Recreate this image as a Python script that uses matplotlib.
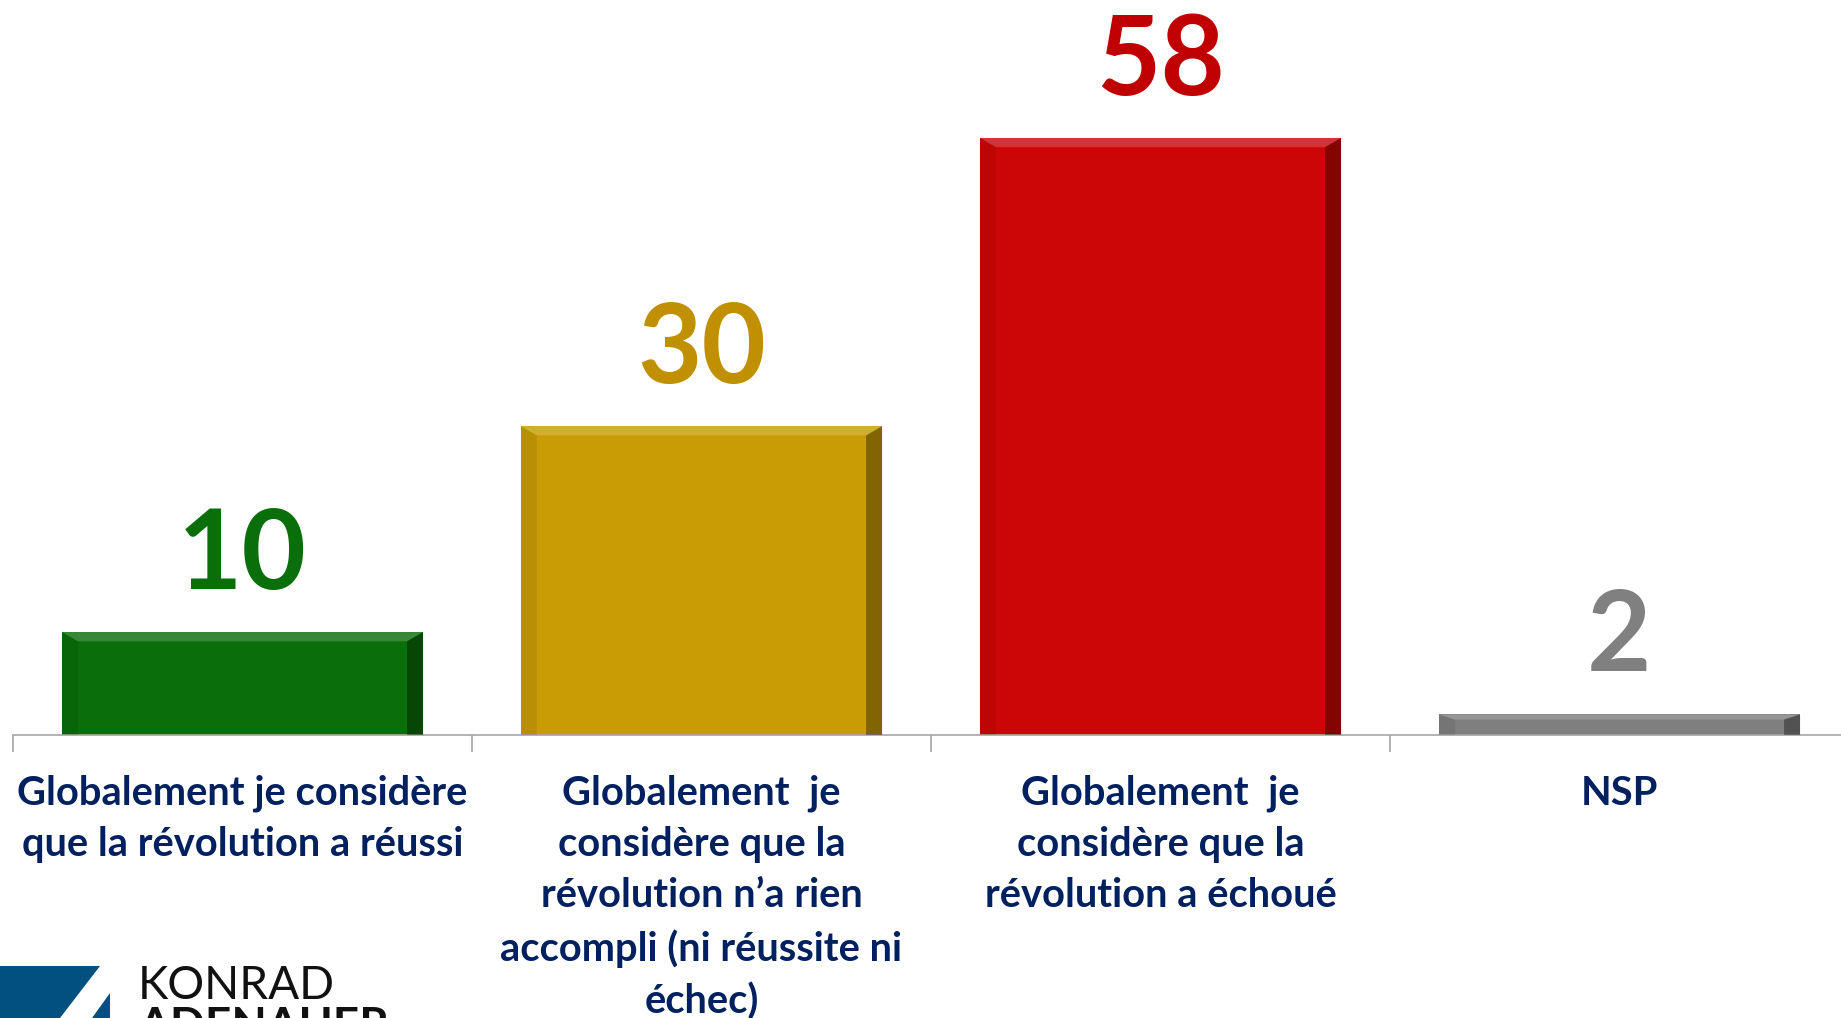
import matplotlib.pyplot as plt
from matplotlib.patches import Polygon

# data
categories = ['Globalement je considère\nque la révolution a réussi',
              'Globalement  je\nconsidère que la\nrévolution n\u2019a rien\naccompli (ni réussite ni\néchec)',
              'Globalement  je\nconsidère que la\nrévolution a échoué',
              'NSP']
values = [10, 30, 58, 2]
bar_colors = ['#0A6E0A', '#C99C05', '#CC0606', '#7F7F7F']
label_colors = ['#0A6E0A', '#C09000', '#C00000', '#808080']

plt.rcParams['font.family'] = ['Lato', 'DejaVu Sans']

fig = plt.figure(figsize=(18.41, 10.18), dpi=100)
ax = fig.add_axes([13 / 1841, 1 - 735 / 1018, 1836 / 1841, 735 / 1018])

x = range(len(values))
bars = ax.bar(x, values, width=0.787, color=bar_colors, zorder=2)

# simple bevel: light strip on top, dark strip on the right
for b, c in zip(bars, bar_colors):
    x0, w, h = b.get_x(), b.get_width(), b.get_height()
    d = min(0.035, w * 0.05)
    dh = min(0.9, h * 0.25)
    ax.add_patch(Polygon([(x0, h), (x0 + w, h), (x0 + w - d, h - dh), (x0 + d, h - dh)],
                         closed=True, facecolor='white', alpha=0.18, lw=0, zorder=3))
    ax.add_patch(Polygon([(x0 + w, 0), (x0 + w, h), (x0 + w - d, h - dh), (x0 + w - d, 0)],
                         closed=True, facecolor='black', alpha=0.35, lw=0, zorder=3))
    ax.add_patch(Polygon([(x0, 0), (x0, h), (x0 + d, h - dh), (x0 + d, 0)],
                         closed=True, facecolor='black', alpha=0.08, lw=0, zorder=3))

for i, v in enumerate(values):
    ax.text(i, v + 4.2, str(v), ha='center', va='baseline', fontsize=80,
            fontweight='bold', color=label_colors[i])

ax.set_xlim(-0.5, len(values) - 0.5)
ax.set_ylim(0, 71.4)
ax.set_xticks([i - 0.5 for i in x])
ax.set_xticklabels([])
ax.tick_params(axis='x', length=12, color='#A6A6A6', width=1.2)
ax.set_yticks([])
for s in ['top', 'right', 'left']:
    ax.spines[s].set_visible(False)
ax.spines['bottom'].set_color('#A6A6A6')
ax.spines['bottom'].set_linewidth(1.2)

for i, lab in enumerate(categories):
    ax.text(i, -3.85, lab, ha='center', va='top', fontsize=28.7, fontweight='bold',
            color='#002060', linespacing=1.47)

# logo
fig.patches.append(Polygon([(0, 52), (100, 52), (60, 0), (0, 0)], closed=True,
                           transform=None, facecolor='#02507F', figure=fig))
fig.patches.append(Polygon([(110, 25), (110, 0), (92, 0)], closed=True,
                           transform=None, facecolor='#02507F', figure=fig))
fig.text(138 / 1841, 1 - 999 / 1018, 'KONRAD', fontsize=33, color='#111111',
         fontweight='normal', va='baseline')
fig.text(138 / 1841, 1 - 1040 / 1018, 'ADENAUER', fontsize=33, color='#111111',
         fontweight='bold', va='baseline')

fig.savefig('out.png', dpi=100)
